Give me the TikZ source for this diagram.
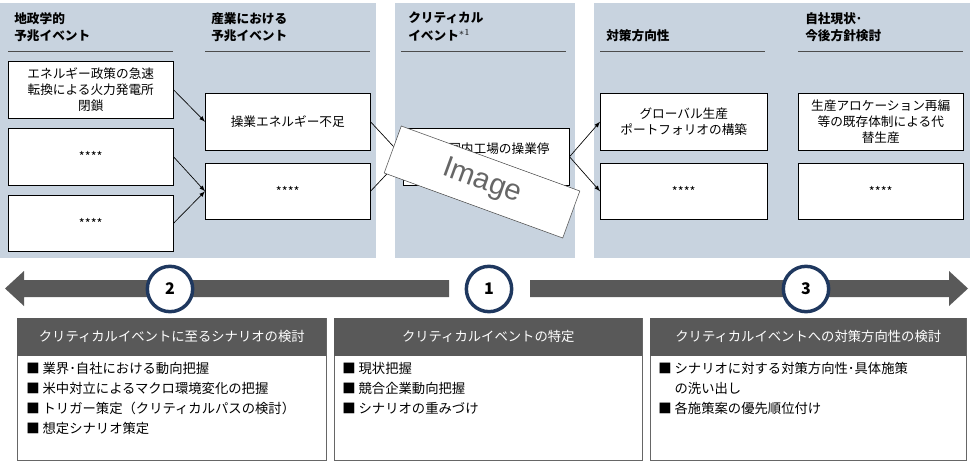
\documentclass[tikz,border=0pt]{standalone}
\usepackage{fontspec}
\setmainfont{Noto Sans CJK JP}
\newfontfamily\latinsans{Liberation Sans}
\usetikzlibrary{arrows}
\definecolor{panel}{RGB}{200,211,223}
\definecolor{band}{RGB}{89,89,89}
\definecolor{ring}{RGB}{31,56,95}
\begin{document}
\begin{tikzpicture}[x=0.75pt, y=-0.75pt]
        \tikzstyle{every node} = [font=\fontsize{9.5}{12}\selectfont]
        \tikzstyle{ev}  = [draw, fill=white, inner sep=1pt, align=center, anchor=north west]
        \tikzstyle{hd}  = [font=\fontsize{9.5}{13}\bfseries\selectfont, inner sep=0pt, anchor=north west, align=left]
        \tikzstyle{rule} = [draw=black!70, line width=0.5pt]
        \tikzstyle{pf}  = [-latex, line width=0.5pt]
        \tikzstyle{num} = [circle, draw=ring, line width=2.6pt, fill=white, minimum size=34pt, inner sep=0pt,
                font=\fontsize{12}{14}\bfseries\selectfont]
        \tikzstyle{stephead} = [fill=band, text=white, minimum height=28pt, anchor=north west, inner sep=0pt,
                font=\fontsize{10}{12}\selectfont]
        \tikzstyle{body} = [draw=black!60, anchor=north west, inner sep=0pt]
        \tikzstyle{item} = [anchor=north west, inner sep=0pt, align=left, font=\fontsize{10}{15}\selectfont]

        \def\bw{165}
        \useasboundingbox (0,0) rectangle (973,463);

        % panels
        \fill[panel] (0,3) rectangle (376,258);
        \fill[panel] (395,3) rectangle (575,258);
        \fill[panel] (594,3) rectangle (970,258);

        % column heads
        \foreach \x/\txt in {14/{地政学的\\予兆イベント}, 211/{産業における\\予兆イベント},
                408/{クリティカル\\イベント$^{*1}$}, 805/{自社現状･\\今後方針検討}}
            \node[hd] at (\x,12) {\txt};
        \node[hd] at (606,29) {対策方向性};
        \foreach \x in {8,205,401,600,798}
            \draw[rule] (\x,51) -- (\x+\bw,51);

        % event boxes
        \node[ev, minimum width=165*0.75pt, minimum height=57*0.75pt] (ga) at (8,61)
            {エネルギー政策の急速\\転換による火力発電所\\閉鎖};
        \node[ev, minimum width=165*0.75pt, minimum height=57*0.75pt] (gb) at (8,128) {****};
        \node[ev, minimum width=165*0.75pt, minimum height=56*0.75pt] (gc) at (8,195) {****};
        \node[ev, minimum width=165*0.75pt, minimum height=57*0.75pt] (ia) at (205,93) {操業エネルギー不足};
        \node[ev, minimum width=165*0.75pt, minimum height=56*0.75pt] (ib) at (205,163) {****};
        \node[ev, minimum width=166*0.75pt, minimum height=57*0.75pt] (ce) at (403,128)
            {中国国内工場の操業停\\止};
        \node[ev, minimum width=167*0.75pt, minimum height=57*0.75pt] (pa) at (600,93)
            {グローバル生産\\ポートフォリオの構築};
        \node[ev, minimum width=167*0.75pt, minimum height=56*0.75pt] (pb) at (600,163) {****};
        \node[ev, minimum width=165*0.75pt, minimum height=57*0.75pt] (sa) at (798,93)
            {生産アロケーション再編\\等の既存体制による代\\替生産};
        \node[ev, minimum width=165*0.75pt, minimum height=56*0.75pt] (sb) at (798,163) {****};

        \draw[pf] (ga.east) -- (ia.west);
        \draw[pf] (gb.east) -- (ib.west);
        \draw[pf] (gc.east) -- (ib.west);
        \draw[pf] (ia.east) -- (ce.west);
        \draw[pf] (ib.east) -- (ce.west);
        \draw[pf] (ce.east) -- (pa.west);
        \draw[pf] (ce.east) -- (pb.west);

        % placeholder
        \node[draw=black!70, fill=white, rotate=-20, minimum width=190*0.75pt, minimum height=50*0.75pt,
            text=black!60, font=\latinsans\fontsize{22}{24}\selectfont] (img) at (482,182) {Image};

        % time line
        \fill[band] (449,280) -- (24,280) -- (24,271) -- (5,288.5) -- (24,306) -- (24,297) -- (449,297) -- cycle;
        \fill[band] (530,280) -- (949,280) -- (949,271) -- (968,288.5) -- (949,306) -- (949,297) -- (530,297) -- cycle;
        \node[num] (n2) at (170,289) {2};
        \node[num] (n1) at (489,289) {1};
        \node[num] (n3) at (806,289) {3};

        % steps
        \foreach \x/\w/\txt in {17/309/{クリティカルイベントに至るシナリオの検討}, 334/308/{クリティカルイベントの特定},
                650/316/{クリティカルイベントへの対策方向性の検討}} {
            \draw[body] (\x,318) rectangle (\x+\w,460);
            \node[stephead, minimum width=\w*0.75pt] at (\x,318) {\txt};
        }
        \node[item] (la) at (26,362) {■ 業界･自社における動向把握\\■ 米中対立によるマクロ環境変化の把握\\
            ■ トリガー策定（クリティカルパスの検討）\\■ 想定シナリオ策定};
        \node[item] (lb) at (342,362) {■ 現状把握\\■ 競合企業動向把握\\■ シナリオの重みづけ};
        \node[item] (lc) at (658,362) {■ シナリオに対する対策方向性･具体施策\\\phantom{■ }の洗い出し\\■ 各施策案の優先順位付け};
    \end{tikzpicture}
\end{document}
